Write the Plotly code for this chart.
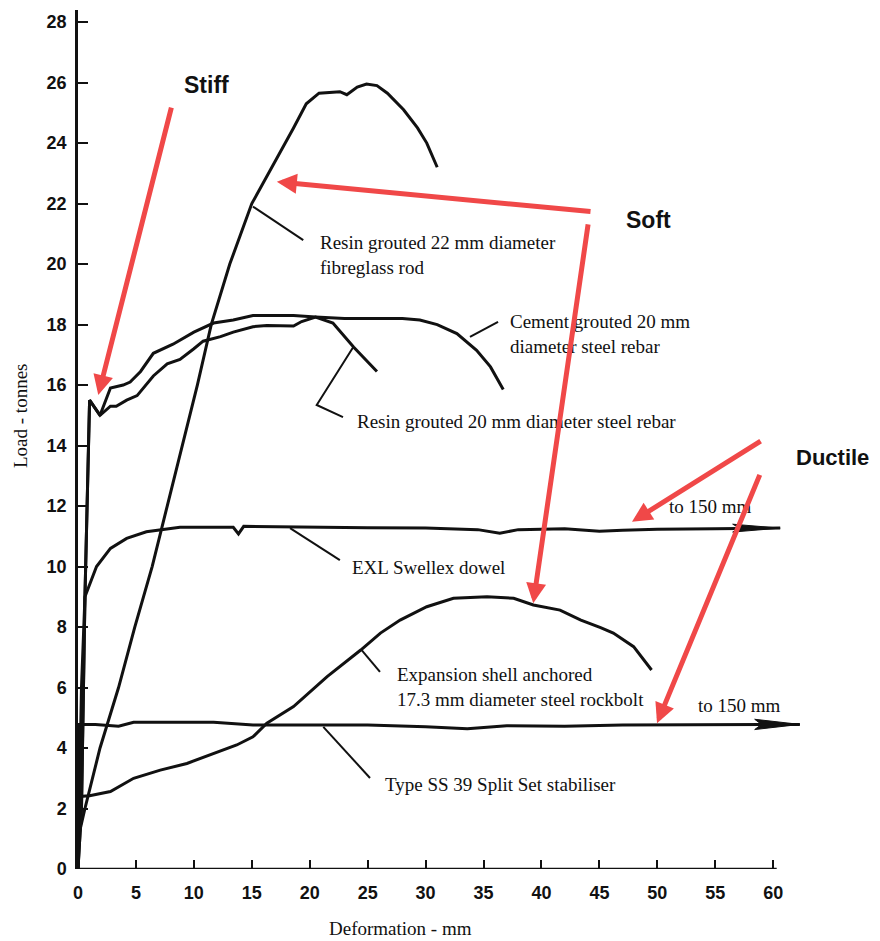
import plotly.graph_objects as go

# ---------------- data ----------------
x_ticks = [0, 5, 10, 15, 20, 25, 30, 35, 40, 45, 50, 55, 60]
y_ticks = [0, 2, 4, 6, 8, 10, 12, 14, 16, 18, 20, 22, 24, 26, 28]

rod_x = [0, 0.6, 1.9, 3.5, 4.9, 6.4, 7.7, 9.0, 10.3, 11.5, 13.1, 15.0, 16.6, 17.8, 18.6,
         19.7, 20.8, 22.6, 23.2, 24.1, 24.9, 25.8, 26.7, 28.1, 29.3, 30.1, 31.0]
rod_y = [1.0, 2.0, 4.0, 6.0, 8.0, 10.0, 12.0, 14.0, 16.0, 18.0, 20.0, 22.0, 23.1, 23.9, 24.5,
         25.3, 25.65, 25.7, 25.6, 25.85, 25.95, 25.9, 25.65, 25.1, 24.5, 24.0, 23.2]

cement_x = [0, 0.3, 0.6, 1.0, 1.9, 2.8, 3.9, 4.5, 5.4, 6.5, 8.2, 10.0, 11.7, 13.4, 15.1, 17.0,
            18.6, 20.5, 23.0, 25.5, 28.0, 29.5, 31.0, 32.7, 34.4, 35.6, 36.7]
cement_y = [0, 2.0, 9.0, 15.5, 15.0, 15.9, 16.0, 16.1, 16.45, 17.05, 17.35, 17.75, 18.05, 18.15,
            18.3, 18.3, 18.3, 18.25, 18.2, 18.2, 18.2, 18.15, 18.0, 17.7, 17.15, 16.6, 15.85]

resin_x = [0, 0.3, 0.6, 1.0, 1.9, 2.8, 3.3, 4.2, 5.1, 6.5, 7.7, 8.8, 10.0, 10.8, 12.3, 13.4,
           15.1, 16.3, 18.6, 19.3, 20.5, 22.0, 23.8, 25.8]
resin_y = [0, 2.0, 9.0, 15.5, 15.0, 15.3, 15.3, 15.5, 15.65, 16.3, 16.7, 16.85, 17.2, 17.45,
           17.6, 17.75, 17.93, 17.97, 17.95, 18.1, 18.25, 18.05, 17.25, 16.45]

exl_x = [0, 0.3, 0.6, 1.6, 2.8, 4.2, 5.9, 8.8, 13.4, 13.85, 14.3, 19.2, 25.0, 30.0, 34.5,
         36.4, 38.0, 42.0, 45.0, 47.0, 50.0, 55.0, 58.0, 60.6]
exl_y = [0, 6.0, 9.0, 10.0, 10.6, 10.93, 11.15, 11.3, 11.3, 11.08, 11.33, 11.3, 11.28, 11.27,
         11.22, 11.1, 11.22, 11.25, 11.17, 11.2, 11.23, 11.25, 11.27, 11.27]

exp_x = [0, 0.15, 1.0, 2.8, 4.8, 7.1, 9.4, 11.7, 13.7, 15.1, 16.3, 18.6, 21.5, 24.4, 26.1,
         27.8, 30.1, 32.4, 35.3, 37.6, 39.3, 41.6, 43.4, 45.1, 46.2, 47.95, 49.5]
exp_y = [0, 2.4, 2.42, 2.56, 3.0, 3.27, 3.49, 3.82, 4.1, 4.37, 4.82, 5.37, 6.36, 7.24, 7.8,
         8.23, 8.67, 8.95, 9.0, 8.95, 8.73, 8.56, 8.23, 7.98, 7.8, 7.35, 6.58]

split_x = [0, 0.05, 1.5, 3.5, 4.8, 8.0, 11.7, 15.1, 20.0, 25.0, 30.0, 33.6, 37.0, 42.0, 47.0,
           52.0, 57.0, 62.3]
split_y = [0, 4.78, 4.78, 4.72, 4.85, 4.86, 4.85, 4.76, 4.76, 4.76, 4.7, 4.64, 4.74, 4.72,
           4.76, 4.76, 4.78, 4.78]

# label texts, positions (data coords) and leader lines
labels = [
    ("Resin grouted 22 mm diameter<br>fibreglass rod", 20.7, 20.3),
    ("Cement grouted 20 mm<br>diameter steel rebar", 37.1, 17.69),
    ("Resin grouted 20 mm diameter steel rebar", 23.9, 14.79),
    ("EXL Swellex dowel", 23.47, 9.98),
    ("Expansion shell anchored<br>17.3 mm diameter steel rockbolt", 27.36, 6.03),
    ("Type SS 39 Split Set stabiliser", 26.3, 2.81),
]
to150 = [("to 150 mm", 54.55, 11.97), ("to 150 mm", 57.05, 5.39)]
leaders = [
    ([15.1, 19.44], [21.9, 20.79]),
    ([33.83, 36.25], [17.59, 18.09]),
    ([23.76, 20.6, 22.87], [17.26, 15.34, 14.94]),
    ([18.3, 22.6], [11.27, 10.21]),
    ([24.48, 26.06], [7.24, 6.52]),
    ([21.17, 25.2], [4.70, 3.01]),
]
# red arrows: (tail_x, tail_y, tip_x, tip_y)
red_arrows = [
    (8.09, 25.22, 1.75, 15.67),
    (44.36, 21.73, 17.16, 22.72),
    (44.04, 21.36, 39.29, 8.79),
    (59.04, 14.18, 47.81, 11.48),
    (58.89, 13.08, 49.97, 4.82),
]

# ---------------- style ----------------
BLACK = "#111111"
RED = "#F04848"
SERIF = "Liberation Serif, Times New Roman, serif"
SANS = "Liberation Sans, Arial, sans-serif"
LW = 3

# page has an 8px body margin; figure sized so it fits the 880x941 window
W, H = 872, 933
ML, MT, PW, PH = 70, 2, 730, 859
MR, MB = W - ML - PW, H - MT - PH
OX, OY = 78, 869  # page pixel of the axis origin


def px(page_x):
    return (page_x - OX) / PW


def py(page_y):
    return (OY - page_y) / PH


fig = go.Figure()

for xs, ys in [(rod_x, rod_y), (cement_x, cement_y), (resin_x, resin_y),
               (exl_x, exl_y), (exp_x, exp_y), (split_x, split_y)]:
    fig.add_trace(go.Scatter(x=xs, y=ys, mode="lines", line=dict(color=BLACK, width=LW),
                             cliponaxis=False, showlegend=False, hoverinfo="skip"))

# arrowheads at the end of the two "to 150 mm" curves
for xs, ys, L, h in [(exl_x, exl_y, 4.1, 0.13), (split_x, split_y, 3.9, 0.17)]:
    tx, ty = xs[-1], ys[-1]
    fig.add_trace(go.Scatter(x=[tx, tx - L, tx - L * 0.85, tx - L, tx],
                             y=[ty, ty + h, ty, ty - h, ty],
                             mode="lines", fill="toself", fillcolor=BLACK,
                             line=dict(color=BLACK, width=1), cliponaxis=False,
                             showlegend=False, hoverinfo="skip"))

# leader lines
for lx, ly in leaders:
    fig.add_trace(go.Scatter(x=lx, y=ly, mode="lines", line=dict(color=BLACK, width=2),
                             cliponaxis=False, showlegend=False, hoverinfo="skip"))

ann = []
for text, x, y in labels:
    ann.append(dict(text=text, x=x, y=y, xref="x", yref="y", xanchor="left", yanchor="middle",
                    align="left", showarrow=False, font=dict(family=SERIF, size=19, color=BLACK)))
for text, x, y in to150:
    ann.append(dict(text=text, x=x, y=y, xref="x", yref="y", xanchor="center", yanchor="middle",
                    showarrow=False, font=dict(family=SERIF, size=19, color=BLACK)))
for tx, ty, hx, hy in red_arrows:
    ann.append(dict(text="", x=hx, y=hy, ax=tx, ay=ty, xref="x", yref="y", axref="x", ayref="y",
                    showarrow=True, arrowhead=2, arrowsize=0.8, arrowwidth=5, arrowcolor=RED))
# bold callouts
ann.append(dict(text="<b>Stiff</b>", x=11.1, y=25.92, xref="x", yref="y", showarrow=False,
                font=dict(family=SANS, size=23, color=BLACK)))
ann.append(dict(text="<b>Soft</b>", x=49.2, y=21.45, xref="x", yref="y", showarrow=False,
                font=dict(family=SANS, size=23, color=BLACK)))
ann.append(dict(text="<b>Ductile</b>", x=px(833), y=py(458), xref="paper", yref="paper",
                xanchor="center", yanchor="middle", showarrow=False,
                font=dict(family=SANS, size=22, color=BLACK)))
# axis titles
ann.append(dict(text="Load - tonnes", x=px(20), y=py(416), xref="paper", yref="paper",
                xanchor="center", yanchor="middle", textangle=-90, showarrow=False,
                font=dict(family=SERIF, size=19, color=BLACK)))
ann.append(dict(text="Deformation - mm", x=px(400), y=py(928), xref="paper", yref="paper",
                xanchor="center", yanchor="middle", showarrow=False,
                font=dict(family=SERIF, size=19, color=BLACK)))

tickfont = dict(family=SANS, size=18, color=BLACK, weight="bold")

fig.update_layout(
    width=W, height=H,
    margin=dict(l=ML, r=MR, t=MT, b=MB, autoexpand=False),
    paper_bgcolor="white", plot_bgcolor="white",
    annotations=ann,
    shapes=[dict(type="line", xref="x", yref="y", x0=0, x1=60.3, y0=0, y1=0,
                 line=dict(color=BLACK, width=2.5))],
    xaxis=dict(range=[0, 63], tickvals=x_ticks, ticks="inside", ticklen=9, tickwidth=2,
               tickcolor=BLACK, showline=False, showgrid=False, zeroline=False,
               tickfont=tickfont, ticklabelstandoff=11, automargin=False),
    yaxis=dict(range=[0, 28.4], tickvals=y_ticks, ticks="inside", ticklen=10, tickwidth=2,
               tickcolor=BLACK, showline=True, linecolor=BLACK, linewidth=2.5,
               showgrid=False, zeroline=False, tickfont=tickfont, ticklabelstandoff=5,
               automargin=False),
)

fig.write_html("out.html")
